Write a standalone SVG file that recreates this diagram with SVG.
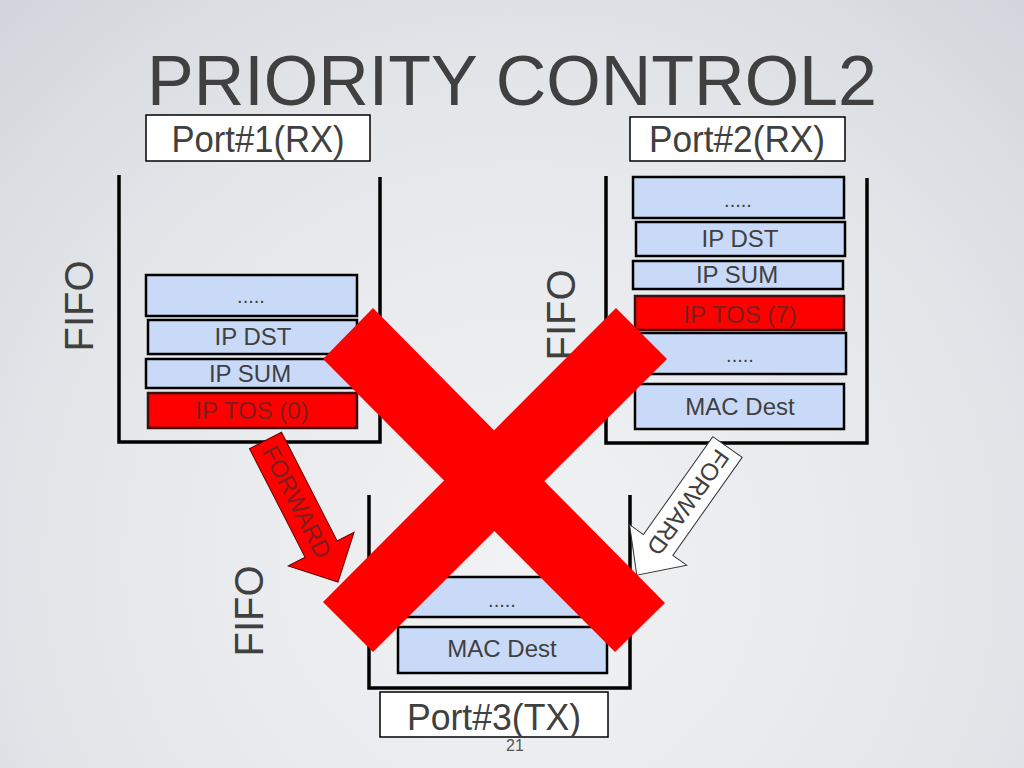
<svg xmlns="http://www.w3.org/2000/svg" width="1024" height="768" viewBox="0 0 1024 768">
<defs>
<radialGradient id="bg" cx="520" cy="560" r="760" gradientUnits="userSpaceOnUse">
<stop offset="0" stop-color="#f1f2f4"/>
<stop offset="0.6" stop-color="#e4e7ea"/>
<stop offset="1" stop-color="#d2d6dc"/>
</radialGradient>
<style>
text{font-family:"Liberation Sans",Arial,sans-serif;fill:#404040}
.cell{fill:#c9daf8;stroke:#000;stroke-width:2.5}
.hot{fill:#ff0000;stroke:#3a1010;stroke-width:2.5}
.lbl{font-size:24px;text-anchor:middle}
.dots{font-size:20px;text-anchor:middle}
.hotlbl{font-size:24px;text-anchor:middle;fill:#7e1e1e}
.port{fill:#fff;stroke:#000;stroke-width:1.5}
.portlbl{font-size:37px;text-anchor:middle}
.fifo{font-size:40px;text-anchor:middle}
.wall{fill:none;stroke:#000;stroke-width:3.5}
.arrowtxt{font-size:24px;text-anchor:middle;dominant-baseline:central}
</style>
</defs>
<rect width="1024" height="768" fill="url(#bg)"/>
<text x="512" y="105" font-size="70" text-anchor="middle">PRIORITY CONTROL2</text>

<g id="port1">
<rect class="port" x="146" y="115" width="224" height="46"/>
<text class="portlbl" x="258" y="152" textLength="173" lengthAdjust="spacingAndGlyphs">Port#1(RX)</text>
<path class="wall" d="M119,175 V442 H380 V177"/>
<text class="fifo" transform="translate(93,306) rotate(-90)">FIFO</text>
<rect class="cell" x="146" y="275" width="211" height="41"/>
<text class="dots" x="251" y="303">.....</text>
<rect class="cell" x="148" y="320" width="209" height="34"/>
<text class="lbl" x="253" y="345">IP DST</text>
<rect class="cell" x="146" y="359" width="211" height="29"/>
<text class="lbl" x="250" y="382">IP SUM</text>
<rect class="hot" x="148" y="393" width="209" height="35"/>
<text class="hotlbl" x="252" y="419">IP TOS (0)</text>
</g>

<g id="port2">
<rect class="port" x="630" y="117" width="215" height="44"/>
<text class="portlbl" x="737" y="152" textLength="176" lengthAdjust="spacingAndGlyphs">Port#2(RX)</text>
<path class="wall" d="M606,176 V443 H867 V178"/>
<text class="fifo" transform="translate(575,315) rotate(-90)">FIFO</text>
<rect class="cell" x="633" y="177" width="211" height="41"/>
<text class="dots" x="738" y="207">.....</text>
<rect class="cell" x="636" y="222" width="209" height="34"/>
<text class="lbl" x="740" y="247">IP DST</text>
<rect class="cell" x="633" y="261" width="210" height="28"/>
<text class="lbl" x="737" y="283">IP SUM</text>
<rect class="hot" x="635" y="296" width="209" height="34"/>
<text class="hotlbl" x="740" y="323">IP TOS (7)</text>
<rect class="cell" x="635" y="333" width="211" height="41"/>
<text class="dots" x="740" y="362">.....</text>
<rect class="cell" x="635" y="384" width="209" height="45"/>
<text class="lbl" x="740" y="415">MAC Dest</text>
</g>

<g id="port3">
<path class="wall" d="M369,495 V688 H630 V495"/>
<text class="fifo" transform="translate(263,611) rotate(-90)">FIFO</text>
<rect class="cell" x="398" y="577" width="209" height="40"/>
<text class="dots" x="502" y="607">.....</text>
<rect class="cell" x="398" y="627" width="209" height="46"/>
<text class="lbl" x="502" y="657">MAC Dest</text>
<rect class="port" x="380" y="692" width="228" height="45"/>
<text class="portlbl" x="494" y="730" textLength="174" lengthAdjust="spacingAndGlyphs">Port#3(TX)</text>
</g>

<g id="connectors">
<g id="forward-red" transform="translate(265.5,440.5) rotate(62.87)">
<polygon points="0,-18 122,-18 122,-37 159,0 122,37 122,18 0,18" fill="#ff0000" stroke="#6a0000" stroke-width="1"/>
<text class="arrowtxt" x="69" y="0" style="fill:#7e1e1e">FORWARD</text>
</g>
<g id="forward-white" transform="translate(727.5,447) rotate(125.3)">
<polygon points="0,-18 120,-18 120,-35 157,0 120,35 120,18 0,18" fill="#ffffff" stroke="#333" stroke-width="1"/>
<text class="arrowtxt" x="68" y="0">FORWARD</text>
</g>
</g>

<g id="cross">
<polygon points="373,308 665,603 615,652 323,359" fill="#ff0000"/>
<polygon points="616,308 667,359 373,652 323,602" fill="#ff0000"/>
</g>

<text x="515" y="751" font-size="16" text-anchor="middle" style="fill:#555">21</text>
</svg>
